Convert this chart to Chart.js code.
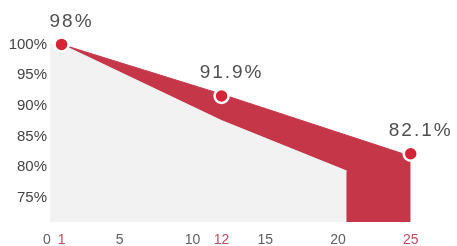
<!DOCTYPE html>
<html><head><meta charset="utf-8">
<script src="https://cdn.jsdelivr.net/npm/chart.js@4"></script>
<style>html,body{margin:0;padding:0;background:#fff;}#wrap{width:457px;height:246px;}</style>
</head><body>
<div id="wrap"><canvas id="c" width="457" height="246"></canvas></div>
<script>
const pointX = [1, 12, 25];
const pointY = [100, 91.6, 82.2];
const pointLabels = ['98%', '91.9%', '82.1%'];
const upperX = [1, 12, 25];
const upperY = [100, 91.9, 81.8];
const lowerX = [0.2, 1, 12, 20.6];
const lowerY = [100, 100, 87.6, 79.4];
const yTicks = [75, 80, 85, 90, 95, 100];
const xTicks = [0, 1, 5, 10, 12, 15, 20, 25];
const redTicks = [1, 12, 25];

const RED_BAND = 'rgb(198,54,73)';
const RED_POINT = 'rgb(212,36,54)';
const RED_TICK = 'rgb(196,76,94)';
const GRAY_FILL = '#f2f2f2';

const zip = (xs, ys) => xs.map((x, i) => ({x, y: ys[i]}));

const labelPlugin = {
  id: 'pointLabels',
  afterDatasetsDraw(chart) {
    const meta = chart.getDatasetMeta(2);
    const ctx = chart.ctx;
    ctx.save();
    ctx.font = '19px "Liberation Sans", Arial, sans-serif';
    ctx.fillStyle = '#505050';
    ctx.textAlign = 'center';
    ctx.textBaseline = 'middle';
    try { ctx.letterSpacing = '2px'; } catch (e) {}
    meta.data.forEach((el, i) => {
      ctx.fillText(pointLabels[i], el.x + 10, el.y - 23);
    });
    ctx.restore();
  }
};

new Chart(document.getElementById('c'), {
  type: 'line',
  data: {
    datasets: [
      {
        label: 'lower',
        data: zip(lowerX, lowerY),
        fill: 'start',
        backgroundColor: GRAY_FILL,
        borderColor: GRAY_FILL,
        borderWidth: 1,
        pointRadius: 0,
        tension: 0,
        order: 1
      },
      {
        label: 'upper',
        data: zip(upperX, upperY),
        fill: 'start',
        backgroundColor: RED_BAND,
        borderColor: RED_BAND,
        borderWidth: 1,
        pointRadius: 0,
        tension: 0,
        order: 2
      },
      {
        label: 'points',
        data: zip(pointX, pointY),
        showLine: false,
        fill: false,
        pointRadius: 7,
        pointBorderWidth: 2.5,
        pointBorderColor: '#ffffff',
        pointBackgroundColor: RED_POINT,
        clip: false,
        order: 0
      }
    ]
  },
  options: {
    responsive: false,
    animation: false,
    devicePixelRatio: 1,
    layout: { padding: { left: 0, right: 8, top: 10, bottom: 0 } },
    plugins: { legend: { display: false }, tooltip: { enabled: false } },
    scales: {
      x: {
        type: 'linear',
        min: 0,
        max: 27.53,
        grid: { display: false, drawTicks: false },
        border: { display: false },
        afterBuildTicks(scale) { scale.ticks = xTicks.map(v => ({value: v})); },
        afterFit(scale) { scale.height = 24; },
        ticks: {
          autoSkip: false,
          maxRotation: 0,
          padding: 10,
          font: { family: '"Liberation Sans", Arial, sans-serif', size: 14 },
          color: (c) => redTicks.includes(c.tick.value) ? RED_TICK : '#606060',
          callback: (v) => String(v)
        }
      },
      y: {
        type: 'linear',
        min: 71.1,
        max: 105.6,
        grid: { display: false, drawTicks: false },
        border: { display: false },
        afterBuildTicks(scale) { scale.ticks = yTicks.map(v => ({value: v})); },
        afterFit(scale) { scale.width = 47; },
        ticks: {
          padding: 0,
          font: { family: '"Liberation Sans", Arial, sans-serif', size: 15 },
          color: '#444444',
          callback: (v) => v + '%'
        }
      }
    }
  },
  plugins: [labelPlugin]
});
</script>
</body></html>
